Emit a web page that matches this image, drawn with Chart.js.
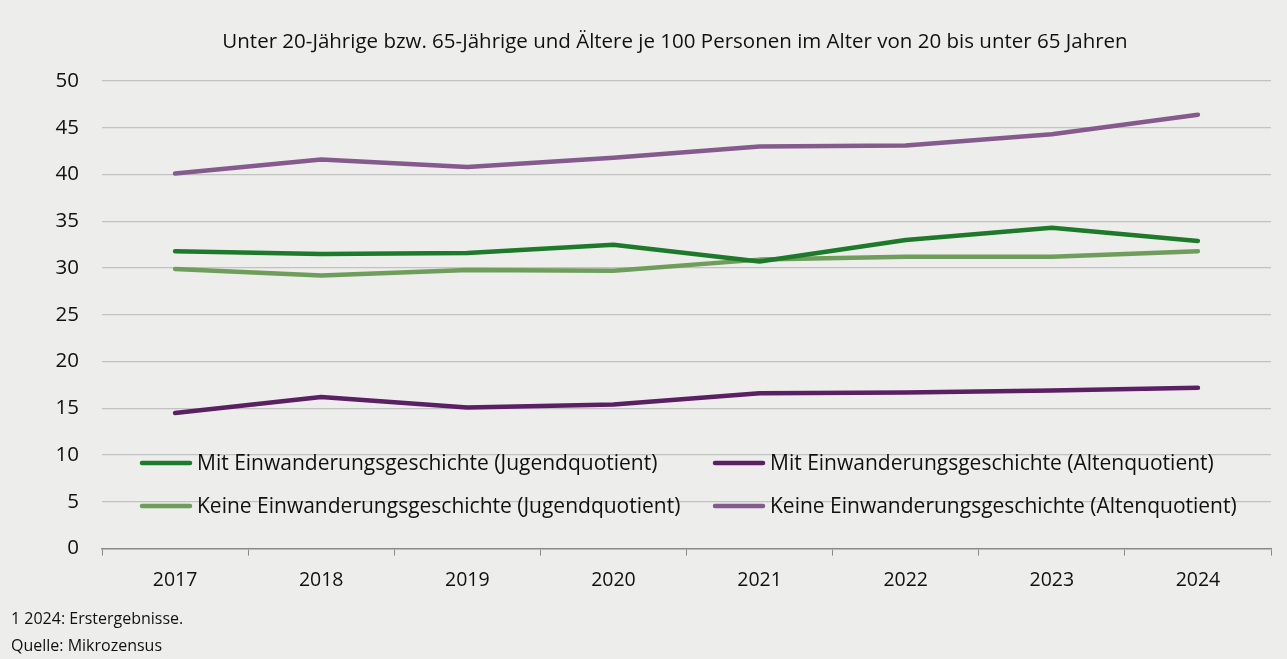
<!DOCTYPE html>
<html>
<head>
<meta charset="utf-8">
<script src="https://cdn.jsdelivr.net/npm/chart.js@4"></script>
<style>
  html, body { margin: 0; padding: 0; background: #ededeb; }
  #wrap { width: 1287px; height: 659px; position: relative; }
</style>
</head>
<body>
<div id="wrap"><canvas id="chart"></canvas></div>
<script>
const years = ['2017', '2018', '2019', '2020', '2021', '2022', '2023', '2024']
const yTicks = [0, 5, 10, 15, 20, 25, 30, 35, 40, 45, 50]

const mitJugend = [31.8, 31.5, 31.6, 32.5, 30.7, 33.0, 34.3, 32.9]
const mitAlten = [14.5, 16.2, 15.1, 15.4, 16.6, 16.7, 16.9, 17.2]
const keineJugend = [29.9, 29.2, 29.8, 29.7, 30.9, 31.2, 31.2, 31.8]
const keineAlten = [40.1, 41.6, 40.8, 41.8, 43.0, 43.1, 44.3, 46.4]

const titleText = 'Unter 20-Jährige bzw. 65-Jährige und Ältere je 100 Personen im Alter von 20 bis unter 65 Jahren'
const notes = ['1 2024: Erstergebnisse.', 'Quelle: Mikrozensus']

const font = '"Open Sans", "Noto Sans", sans-serif'

function line(label, data, color) {
  return {
    label: label,
    data: data,
    borderColor: color,
    backgroundColor: color,
    borderWidth: 4.5,
    pointRadius: 0,
    borderCapStyle: 'round',
    borderJoinStyle: 'round',
    tension: 0
  }
}

// title, legend inside the plot and the footnotes
const extras = {
  id: 'extras',
  afterDraw(chart) {
    const ctx = chart.ctx
    ctx.save()
    ctx.fillStyle = '#111'
    ctx.textBaseline = 'middle'

    ctx.font = '20.5px ' + font
    ctx.textAlign = 'center'
    ctx.fillText(titleText, 675, 42)

    ctx.textAlign = 'left'
    const cols = [140, 713]
    const rows = [463, 506]
    chart.data.datasets.forEach((ds, i) => {
      const x = cols[i % 2]
      const y = rows[Math.floor(i / 2)]
      ctx.strokeStyle = ds.borderColor
      ctx.lineWidth = 4.5
      ctx.lineCap = 'round'
      ctx.beginPath()
      ctx.moveTo(x + 2, y)
      ctx.lineTo(x + 50, y)
      ctx.stroke()
      ctx.font = '21px ' + font
      ctx.fillText(ds.label, x + 57, y + 1)
    })

    ctx.font = '16px ' + font
    ctx.fillText(notes[0], 11, 619)
    ctx.fillText(notes[1], 11, 646)
    ctx.restore()
  }
}

const graph = new Chart(document.getElementById('chart'), {
  type: 'line',
  data: {
    labels: years,
    datasets: [
      line('Mit Einwanderungsgeschichte (Jugendquotient)', mitJugend, '#1e7a2b'),
      line('Mit Einwanderungsgeschichte (Altenquotient)', mitAlten, '#5b1f63'),
      line('Keine Einwanderungsgeschichte (Jugendquotient)', keineJugend, '#6f9d5b'),
      line('Keine Einwanderungsgeschichte (Altenquotient)', keineAlten, '#845b8c')
    ]
  },
  options: {
    responsive: true,
    maintainAspectRatio: false,
    animation: false,
    layout: { padding: { top: 81, right: 16, bottom: 54, left: 12 } },
    plugins: {
      legend: { display: false },
      title: { display: false },
      tooltip: { enabled: false }
    },
    scales: {
      x: {
        offset: true,
        grid: { offset: true, drawOnChartArea: false, drawTicks: true, tickLength: 7, color: '#8a8a8a' },
        border: { color: '#8a8a8a', width: 1.5 },
        ticks: { color: '#111', font: { family: font, size: 19.5 }, padding: 13 }
      },
      y: {
        min: 0,
        max: 50,
        afterBuildTicks: scale => { scale.ticks = yTicks.map(v => ({ value: v })) },
        afterFit: scale => { scale.width = 90 },
        grid: { color: ctx => ctx.tick.value === 0 ? 'rgba(0,0,0,0)' : '#c2c2c2', drawTicks: false, lineWidth: 1.2 },
        border: { display: false },
        ticks: { color: '#111', font: { family: font, size: 20.5 }, padding: 23 }
      }
    }
  },
  plugins: [extras]
})
</script>
</body>
</html>
